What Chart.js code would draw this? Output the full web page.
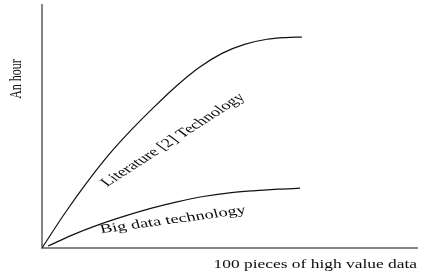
<!DOCTYPE html>
<html>
<head>
<meta charset="utf-8">
<script src="https://cdn.jsdelivr.net/npm/chart.js@4/dist/chart.umd.min.js"></script>
<style>
html,body{margin:0;padding:0;background:#fff;}
#wrap{width:428px;height:278px;}
</style>
</head>
<body>
<div id="wrap"><canvas id="c" width="428" height="278"></canvas></div>
<script>
// Data (axes carry no ticks)
const upperX = [0, 6, 12, 18, 24, 30, 36, 42, 48, 54, 60, 65, 69.3];
const upperY = [0, 14.1, 27.0, 38.7, 48.9, 58.2, 66.9, 74.4, 80.1, 83.8, 85.9, 86.6, 86.8];
const lowerX = [1.6, 8, 15, 22, 29, 36, 43, 50, 57, 63, 68.8];
const lowerY = [0.8, 5.3, 9.5, 13.1, 16.3, 19.0, 21.2, 22.7, 23.6, 24.2, 24.6];
const seriesNames = ["Literature [2] Technology", "Big data technology"];
const xTitle = "100 pieces of high value data";
const yTitle = "An hour";

const toPts = (xs, ys) => xs.map((x, i) => ({x: x, y: ys[i]}));

const SX = 1.45; // horizontal stretch of the original figure's text
const FONT = '"Liberation Serif", "Times New Roman", serif';

const textPlugin = {
  id: 'textPlugin',
  afterDraw(chart) {
    const ctx = chart.ctx;
    const a = chart.chartArea;
    ctx.save();
    ctx.fillStyle = '#0d0d0d';
    // y title
    ctx.save();
    ctx.font = '12px ' + FONT;
    ctx.textAlign = 'center';
    ctx.textBaseline = 'middle';
    ctx.translate(16, 79);
    ctx.scale(SX, 1);
    ctx.rotate(-Math.PI / 2);
    ctx.fillText(yTitle, 0, 0);
    ctx.restore();
    // x title
    ctx.save();
    ctx.font = '12px ' + FONT;
    ctx.textAlign = 'right';
    ctx.textBaseline = 'alphabetic';
    ctx.translate(a.right, 268);
    ctx.scale(SX, 1);
    ctx.fillText(xTitle, 0, 0);
    ctx.restore();
    // series labels
    const labels = [
      {t: seriesNames[0], x: 173, y: 140, ang: -43},
      {t: seriesNames[1], x: 173, y: 220, ang: -11.4}
    ];
    labels.forEach(l => {
      ctx.save();
      ctx.font = '12.7px ' + FONT;
      ctx.textAlign = 'center';
      ctx.textBaseline = 'middle';
      ctx.translate(l.x, l.y);
      ctx.scale(SX, 1);
      ctx.rotate(l.ang * Math.PI / 180);
      ctx.fillText(l.t, 0, 0);
      ctx.restore();
    });
    ctx.restore();
  }
};

new Chart(document.getElementById('c'), {
  type: 'line',
  data: {
    datasets: [
      {label: seriesNames[0], data: toPts(upperX, upperY), borderColor: '#111', borderWidth: 1.2,
       pointRadius: 0, cubicInterpolationMode: 'monotone', fill: false},
      {label: seriesNames[1], data: toPts(lowerX, lowerY), borderColor: '#111', borderWidth: 1.2,
       pointRadius: 0, cubicInterpolationMode: 'monotone', fill: false}
    ]
  },
  options: {
    responsive: false,
    animation: false,
    devicePixelRatio: 1,
    layout: {padding: {left: 42, top: 5, right: 11, bottom: 30}},
    plugins: {legend: {display: false}, tooltip: {enabled: false}, title: {display: false}},
    scales: {
      x: {type: 'linear', min: 0, max: 100,
          grid: {display: false, drawTicks: false},
          ticks: {display: false},
          border: {display: true, color: '#858585', width: 2}},
      y: {type: 'linear', min: 0, max: 100,
          grid: {display: false, drawTicks: false},
          ticks: {display: false},
          border: {display: true, color: '#858585', width: 2}}
    }
  },
  plugins: [textPlugin]
});
</script>
</body>
</html>
